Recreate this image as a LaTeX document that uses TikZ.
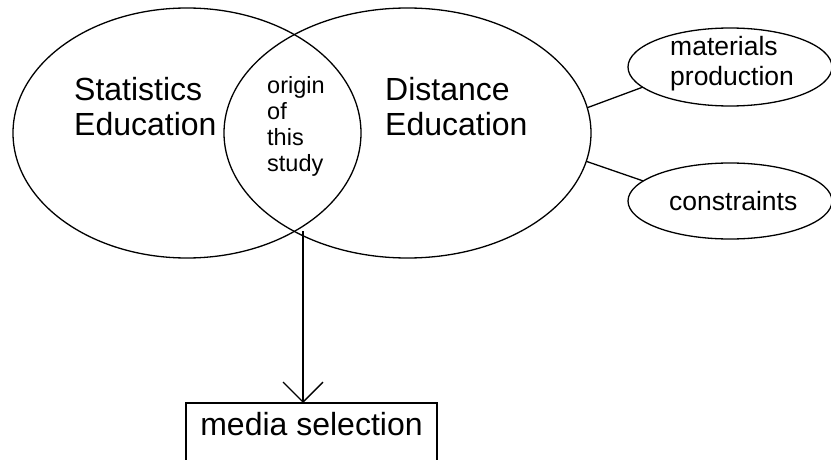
\documentclass[tikz,border=0pt]{standalone}
\usepackage{fontspec}
\setmainfont{Liberation Sans}
\usetikzlibrary{shapes.geometric,arrows.meta}
\begin{document}
\begin{tikzpicture}[x=1pt,y=-1pt,
  outline/.style={draw=black, line width=1.3pt},
  oval/.style={outline, ellipse, inner sep=0pt, outer sep=0pt},
  bigtext/.style={font=\fontsize{32}{35}\selectfont, inner sep=0pt, align=left},
  midtext/.style={font=\fontsize{26.5}{30}\selectfont, inner sep=0pt, align=left},
  smalltext/.style={font=\fontsize{23.5}{26}\selectfont, inner sep=0pt, align=left},
  link/.style={outline},
  flow/.style={outline, -{Straight Barb[length=20pt, width=40pt, line width=1.3pt]}}]

\useasboundingbox (0,0) rectangle (831,460);
\clip (0,0) rectangle (831,460);

% the two overlapping fields
\node[oval, minimum width=348, minimum height=250] (SE) at (187,133) {};
\node[oval, minimum width=367, minimum height=250] (DE) at (407.5,133) {};

% aspects of distance education
\node[oval, minimum width=204, minimum height=78] (MP) at (730,67) {};
\node[oval, minimum width=204, minimum height=76] (CO) at (730,201) {};

% media selection box
\node[outline, rectangle, inner sep=0pt, outer sep=0pt,
      minimum width=251, minimum height=70, anchor=north] (MS) at (311.5,403) {};

% labels
\node[bigtext, anchor=north west] (SEtext) at (74,77) {Statistics\\Education};
\node[bigtext, anchor=north west] (DEtext) at (385,77) {Distance\\Education};
\node[smalltext, anchor=north west] (OStext) at (267,76) {origin\\of\\this\\study};
\node[midtext, anchor=north west] (MPtext) at (670,36) {materials\\production};
\node[midtext, anchor=base west] (COtext) at (669,210) {constraints};
\node[bigtext, anchor=base] (MStext) at (311.5,435) {media selection};

% connectors
\draw[link] (DE.8.4) -- (MP.193.7);
\draw[link] (DE.-9.3) -- (CO.167.6);
\coordinate (lens) at (303,231);
\draw[flow] (lens) -- (lens |- MS.north);
\end{tikzpicture}
\end{document}
